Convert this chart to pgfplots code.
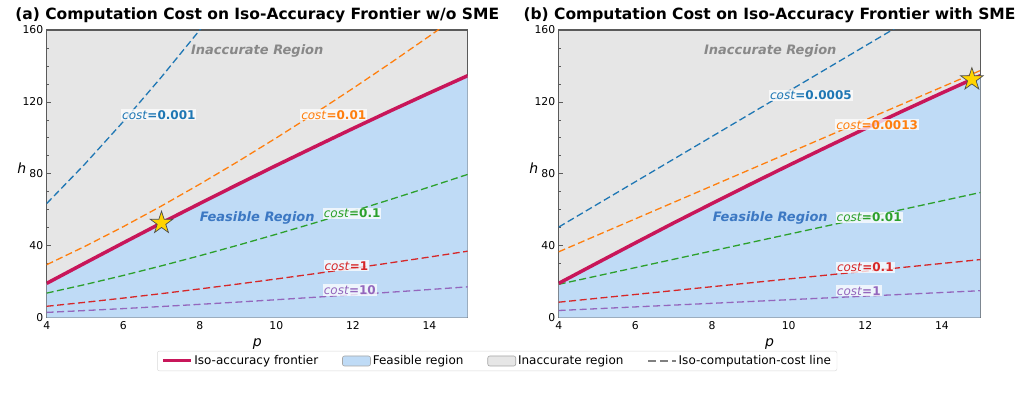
\documentclass[border=0pt]{standalone}
\usepackage{fontspec}
\setmainfont{DejaVu Sans}
\usepackage{pgfplots}
\usepackage{pgfplotstable}
\pgfplotsset{compat=1.18}

\definecolor{cblue}{HTML}{1F77B4}
\definecolor{corange}{HTML}{FF7F0E}
\definecolor{cgreen}{HTML}{2CA02C}
\definecolor{cred}{HTML}{D62728}
\definecolor{cpurple}{HTML}{9467BD}
\definecolor{frontier}{RGB}{200,22,90}
\definecolor{feas}{RGB}{191,219,246}
\definecolor{inacc}{RGB}{230,230,230}
\definecolor{axgray}{RGB}{90,90,90}
\definecolor{feastext}{RGB}{60,120,195}
\definecolor{inacctext}{RGB}{136,136,136}
\definecolor{starfill}{RGB}{255,212,0}

% filled five-pointed star
\pgfdeclareplotmark{fstar}{%
  \pgfpathmoveto{\pgfpointpolar{90}{\pgfplotmarksize}}%
  \pgfpathlineto{\pgfpointpolar{126}{0.382\pgfplotmarksize}}%
  \pgfpathlineto{\pgfpointpolar{162}{\pgfplotmarksize}}%
  \pgfpathlineto{\pgfpointpolar{198}{0.382\pgfplotmarksize}}%
  \pgfpathlineto{\pgfpointpolar{234}{\pgfplotmarksize}}%
  \pgfpathlineto{\pgfpointpolar{270}{0.382\pgfplotmarksize}}%
  \pgfpathlineto{\pgfpointpolar{306}{\pgfplotmarksize}}%
  \pgfpathlineto{\pgfpointpolar{342}{0.382\pgfplotmarksize}}%
  \pgfpathlineto{\pgfpointpolar{18}{\pgfplotmarksize}}%
  \pgfpathlineto{\pgfpointpolar{54}{0.382\pgfplotmarksize}}%
  \pgfpathclose
  \pgfusepathqfillstroke}

% iso-accuracy frontier (same in both panels)
\pgfplotstableread{
p h
4 19.1
5 30.4
6 41.6
7 52.7
8 63.5
9 74.2
10 84.7
11 95.0
12 105.2
13 115.2
14 125.0
15 134.6
}\frontiertab

% iso-cost lines without SME
\pgfplotstableread{
p c0001 c001 c01 c1 c10
4 63.50 29.47 13.68 6.35 2.95
5 85.50 39.69 18.42 8.55 3.97
6 109.03 50.61 23.49 10.90 5.06
7 133.91 62.15 28.85 13.39 6.22
8 160.00 74.27 34.47 16.00 7.43
9 187.21 86.89 40.33 18.72 8.69
10 215.44 100.00 46.42 21.54 10.00
11 244.64 113.55 52.71 24.46 11.36
12 274.73 127.52 59.19 27.47 12.75
13 305.67 141.88 65.86 30.57 14.19
14 337.42 156.62 72.70 33.74 15.66
15 369.93 171.71 79.70 36.99 17.17
}\costA

% iso-cost lines with SME
\pgfplotstableread{
p c00005 c00013 c001 c01 c1
4 50.40 36.65 18.57 8.62 4.00
15 188.99 137.45 69.62 32.32 15.00
}\costB

\tikzset{
  costline/.style={dash pattern=on 7pt off 3.5pt, line width=1.3pt},
  costlabel/.style={fill=white, fill opacity=0.75, text opacity=1, inner sep=1pt,
                    font=\fontsize{12}{14}\selectfont},
  regionlabel/.style={font=\bfseries\itshape\fontsize{13}{15}\selectfont},
}

\pgfplotsset{
  lineleg/.style={legend image code/.code={\draw[##1] (0pt,0pt) -- (28pt,0pt);}},
  boxleg/.style={legend image code/.code={\draw[##1] (0pt,-5pt) rectangle (28pt,5pt);}},
  panel/.style={
    scale only axis, height=287.7pt,
    xmin=4, xmax=15, ymin=0, ymax=160,
    xtick={4,6,...,14}, ytick={0,40,...,160},
    minor x tick num=3, minor y tick num=3,
    tick pos=left, tick align=inside,
    major tick length=4.5pt, minor tick length=2.7pt,
    every tick/.style={axgray, line width=0.8pt},
    axis line style={axgray, line width=1.2pt},
    axis background/.style={fill=inacc},
    tick label style={font=\fontsize{10.8}{12}\selectfont},
    /pgf/number format/assume math mode=true,
    xlabel={\textit{p}}, ylabel={\textit{h}},
    label style={font=\fontsize{14}{16}\selectfont},
    xlabel style={at={(axis description cs:0.5,-0.09)}, anchor=center},
    ylabel style={rotate=-90, at={(axis description cs:-0.059,0.52)}, anchor=center},
    title style={font=\bfseries\fontsize{15.5}{18}\selectfont,
                 at={(axis description cs:0.5,1.014)}, anchor=base},
    clip mode=individual,
  },
}

\begin{document}
\begin{tikzpicture}
\path[use as bounding box] (0pt,0pt) rectangle (1022pt,406pt);

% ---------- (a) without SME ----------
\begin{axis}[panel, width=421pt, at={(46.7pt,88.3pt)}, anchor=south west,
  title={(a) Computation Cost on Iso-Accuracy Frontier w/o SME},
  legend style={at={(1.07,-0.1505)}, anchor=center, legend columns=4,
    draw=black!15, rounded corners=2pt, inner xsep=4pt, inner ysep=2.5pt,
    font=\fontsize{12}{14}\selectfont,
    /tikz/every even column/.append style={column sep=22pt}},
]
\addplot[draw=none, fill=feas, forget plot] table[x=p, y=h] {\frontiertab} \closedcycle;
\addplot[costline, cblue, forget plot] table[x=p, y=c0001] {\costA};
\addplot[costline, corange, forget plot] table[x=p, y=c001] {\costA};
\addplot[costline, cgreen, forget plot] table[x=p, y=c01] {\costA};
\addplot[costline, cred, forget plot] table[x=p, y=c1] {\costA};
\addplot[costline, cpurple, forget plot] table[x=p, y=c10] {\costA};
\addplot[frontier, line width=3.5pt, forget plot] table[x=p, y=h] {\frontiertab};
\addplot[only marks, mark=fstar, mark size=11.8pt,
  mark options={fill=starfill, draw=black!70, line width=0.7pt}, forget plot]
  coordinates {(7,52.7)};

\node[regionlabel, text=inacctext] at (axis cs:9.5,148.3) {Inaccurate Region};
\node[regionlabel, text=feastext] at (axis cs:9.5,55.2) {Feasible Region};
\node[costlabel, text=cblue] at (axis cs:6.93,112.8) {\textit{cost}\textbf{=0.001}};
\node[costlabel, text=corange] at (axis cs:11.5,112.8) {\textit{cost}\textbf{=0.01}};
\node[costlabel, text=cgreen] at (axis cs:11.98,58) {\textit{cost}\textbf{=0.1}};
\node[costlabel, text=cred] at (axis cs:11.83,28.9) {\textit{cost}\textbf{=1}};
\node[costlabel, text=cpurple] at (axis cs:11.92,15.4) {\textit{cost}\textbf{=10}};

\addlegendimage{frontier, line width=3pt, lineleg}
\addlegendentry{Iso-accuracy frontier}
\addlegendimage{fill=feas, draw=black!35, line width=0.6pt, boxleg}
\addlegendentry{Feasible region}
\addlegendimage{fill=inacc, draw=black!35, line width=0.6pt, boxleg}
\addlegendentry{Inaccurate region}
\addlegendimage{black!50, dash pattern=on 8pt off 4pt, line width=1.2pt, lineleg}
\addlegendentry{Iso-computation-cost line}
\end{axis}

% ---------- (b) with SME ----------
\begin{axis}[panel, width=421.6pt, at={(558.7pt,88.3pt)}, anchor=south west,
  title={(b) Computation Cost on Iso-Accuracy Frontier with SME},
]
\addplot[draw=none, fill=feas] table[x=p, y=h] {\frontiertab} \closedcycle;
\addplot[costline, cblue] table[x=p, y=c00005] {\costB};
\addplot[costline, corange] table[x=p, y=c00013] {\costB};
\addplot[costline, cgreen] table[x=p, y=c001] {\costB};
\addplot[costline, cred] table[x=p, y=c01] {\costB};
\addplot[costline, cpurple] table[x=p, y=c1] {\costB};
\addplot[frontier, line width=3.5pt] table[x=p, y=h] {\frontiertab};
\addplot[only marks, mark=fstar, mark size=11.8pt,
  mark options={fill=starfill, draw=black!70, line width=0.7pt}]
  coordinates {(14.78,132.5)};

\node[regionlabel, text=inacctext] at (axis cs:9.52,148.3) {Inaccurate Region};
\node[regionlabel, text=feastext] at (axis cs:9.52,55.2) {Feasible Region};
\node[costlabel, text=cblue] at (axis cs:10.58,123.8) {\textit{cost}\textbf{=0.0005}};
\node[costlabel, text=corange] at (axis cs:12.31,107.2) {\textit{cost}\textbf{=0.0013}};
\node[costlabel, text=cgreen] at (axis cs:12.10,55.8) {\textit{cost}\textbf{=0.01}};
\node[costlabel, text=cred] at (axis cs:12.0,28.0) {\textit{cost}\textbf{=0.1}};
\node[costlabel, text=cpurple] at (axis cs:11.83,15.0) {\textit{cost}\textbf{=1}};
\end{axis}
\end{tikzpicture}
\end{document}
